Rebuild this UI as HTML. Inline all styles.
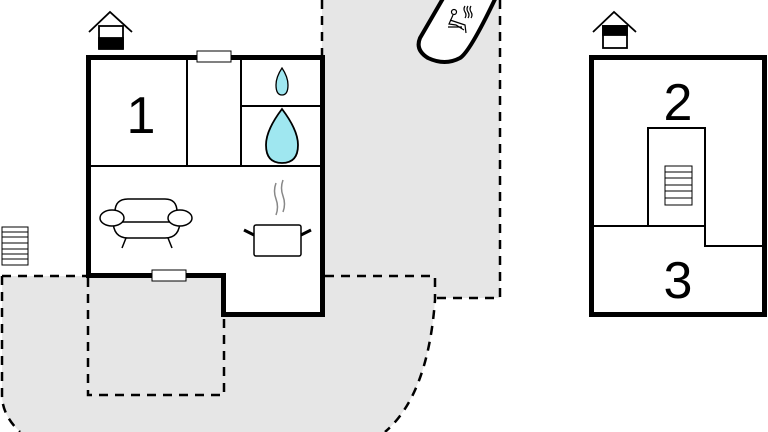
<!DOCTYPE html>
<html><head><style>body{margin:0;background:#fff}svg{display:block}</style></head><body>
<svg width="768" height="432" viewBox="0 0 768 432" xmlns="http://www.w3.org/2000/svg" font-family="Liberation Sans, sans-serif">
<g fill="#e6e6e6" stroke="none">
<rect x="322" y="0" width="178" height="298"/>
<path d="M2 276 L435 276 L435 300 Q428 395 385 432 L20 432 Q2 415 2 395 Z"/>
</g>
<g fill="none" stroke="#000" stroke-width="2.5" stroke-dasharray="9,7">
<path d="M322 0 L322 55"/>
<path d="M500 0 L500 298 L435 298"/>
<path d="M2 276 L86 276"/>
<path d="M325 276 L435 276 L435 300 Q428 395 385 432"/>
<path d="M2 276 L2 395 Q2 415 20 432"/>
<path d="M88 278 L88 395 L224 395 L224 317"/>
</g>
<path d="M445 -5 L420 38 Q415 50 428 58 Q445 66 460 58 Q470 52 497 -5 Z" fill="#fff" stroke="#000" stroke-width="4"/>
<g fill="none" stroke="#000" stroke-width="1.2">
<circle cx="454" cy="12" r="2.5"/><path d="M453 15 L449 24 L456 25 L464 30 M450 20 L456 22 L465 25 L466 33 M448 27 L462 27"/>
<path d="M465 6 q-2 3 0 6 q2 3 0 6 M468 6 q-2 3 0 6 q2 3 0 6 M471 6 q-2 3 0 6 q2 3 0 6"/>
</g>
<path d="M88.5 57.5 H322.5 V314.5 H223.5 V275.5 H88.5 Z" fill="#fff" stroke="#000" stroke-width="5"/>
<g stroke="#000" stroke-width="2" fill="none">
<path d="M187 60 V166 M241 60 V166 M91 166 H320 M241 106 H320"/>
</g>
<rect x="197" y="51" width="34" height="11" fill="#fff" stroke="#000" stroke-width="1"/>
<rect x="152" y="270" width="34" height="11" fill="#fff" stroke="#000" stroke-width="1"/>
<text x="141" y="133" font-size="52" text-anchor="middle">1</text>
<path d="M282 68 Q276 77 276 85 Q276 95 282 95 Q288 95 288 85 Q288 77 282 68Z" fill="#9fe7f0" stroke="#000" stroke-width="1.3"/>
<path d="M282 109 Q266 130 266 145 Q266 163 282 163 Q298 163 298 145 Q298 130 282 109Z" fill="#9fe7f0" stroke="#000" stroke-width="1.8"/>
<g fill="none" stroke="#000" stroke-width="1.5">
<path d="M115 212 Q115 199 128 199 H165 Q177 199 177 212 M115 222 H177 M113 220 Q113 238 128 238 H165 Q180 238 180 220 M126 238 L122 248 M168 238 L172 248"/>
<ellipse cx="112" cy="218" rx="12" ry="8" fill="#fff"/><ellipse cx="180" cy="218" rx="12" ry="8" fill="#fff"/>
<rect x="254" y="225" width="47" height="31" rx="2"/>
<path d="M254 235 L244 230 M301 235 L311 230" stroke-width="3"/>
<path d="M276 183 q-3 8 0 16 q3 8 0 16 M283 180 q-3 8 0 16 q3 8 0 16" stroke="#888"/>
</g>
<g fill="none" stroke="#000" stroke-width="1">
<rect x="2" y="227" width="26" height="38"/><path d="M2 232H28M2 237H28M2 243H28M2 249H28M2 254H28M2 259H28"/>
<rect x="665" y="166" width="27" height="39"/><path d="M665 172H692M665 178H692M665 185H692M665 191H692M665 198H692"/>
</g>
<path d="M591.5 57.5 H764.5 V314.5 H591.5 Z" fill="none" stroke="#000" stroke-width="5"/>
<path d="M648 227 V128 H705 V246 H763 M593 226 H705" fill="none" stroke="#000" stroke-width="2"/>
<text x="678" y="120" font-size="52" text-anchor="middle">2</text>
<text x="678" y="298" font-size="52" text-anchor="middle">3</text>
<g stroke="#000" fill="none" stroke-width="1.8">
<path d="M89 32 L110 12 L132 32"/><rect x="99" y="26" width="24" height="22" fill="#fff"/>
<rect x="99" y="38" width="24" height="11" fill="#000"/>
<path d="M593 32 L614 12 L636 32"/><rect x="603" y="26" width="24" height="22" fill="#fff"/>
<rect x="603" y="26" width="24" height="9" fill="#000"/>
</g>
</svg>
</body></html>
